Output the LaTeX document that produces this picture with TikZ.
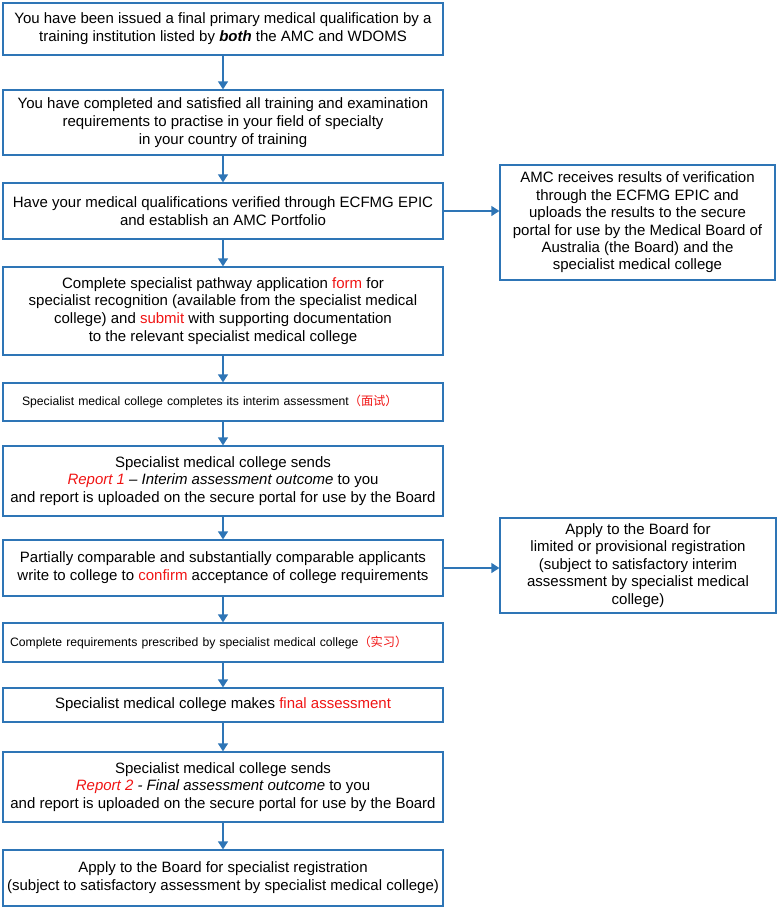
\documentclass[tikz,border=0pt]{standalone}
\usepackage{fontspec}
\setmainfont{Liberation Sans}
\newfontfamily\cjk{Noto Sans CJK SC}
\usetikzlibrary{arrows.meta}
\definecolor{boxblue}{RGB}{46,117,182}
\definecolor{hired}{RGB}{240,20,20}
\tikzset{
  box/.style={draw=boxblue, line width=1.3pt, minimum width=440pt, align=center,
    font=\fontsize{15}{17.8}\selectfont, inner sep=1pt},
  sidebox/.style={draw=boxblue, line width=1.3pt, align=center,
    font=\fontsize{15}{17.4}\selectfont, inner sep=1pt},
  smallbox/.style={draw=boxblue, line width=1.3pt, align=left,
    font=\fontsize{12.2}{14}\selectfont},
  arr/.style={draw=boxblue, line width=1.3pt, -{Triangle[length=8pt,width=10pt]}},
}
\newcommand{\rd}[1]{\textcolor{hired}{#1}}
\begin{document}
\begin{tikzpicture}[x=1pt,y=-1pt]
\useasboundingbox (0,0) rectangle (779,908);
\node[box, minimum height=52pt] (b1) at (223,29) {You have been issued a final primary medical qualification by a\\training institution listed by \textbf{\textit{both}} the AMC and WDOMS};
\node[box, minimum height=65pt] (b2) at (223,122.5) {You have completed and satisfied all training and examination\\requirements to practise in your field of specialty\\in your country of training};
\node[box, minimum height=56pt] (b3) at (223,211) {Have your medical qualifications verified through ECFMG EPIC\\and establish an AMC Portfolio};
\node[box, minimum height=88pt] (b4) at (223,311) {Complete specialist pathway application \rd{form} for\\specialist recognition (available from the specialist medical\\college) and \rd{submit} with supporting documentation\\to the relevant specialist medical college};
\node[smallbox, minimum height=38pt, text width=402pt, inner xsep=19pt] (b5) at (223,402) {Specialist medical college completes its interim assessment\rd{\cjk （面试）}};
\node[box, minimum height=70pt] (b6) at (223,481) {Specialist medical college sends\\\rd{\textit{Report 1}} \textit{– Interim assessment outcome} to you\\and report is uploaded on the secure portal for use by the Board};
\node[box, minimum height=56pt] (b7) at (223,568) {Partially comparable and substantially comparable applicants\\write to college to \rd{confirm} acceptance of college requirements};
\node[smallbox, minimum height=39pt, text width=426pt, inner xsep=7pt] (b8) at (223,642.5) {Complete requirements prescribed by specialist medical college\rd{\cjk （实习）}};
\node[box, minimum height=34pt] (b9) at (223,705) {Specialist medical college makes \rd{final assessment}};
\node[box, minimum height=70pt] (b10) at (223,787) {Specialist medical college sends\\\rd{\textit{Report 2}} \textit{- Final assessment outcome} to you\\and report is uploaded on the secure portal for use by the Board};
\node[box, minimum height=56pt] (b11) at (223,878) {Apply to the Board for specialist registration\\(subject to satisfactory assessment by specialist medical college)};
\node[sidebox, minimum width=275pt, minimum height=115pt] (rA) at (637.5,222.5) {AMC receives results of verification\\through the ECFMG EPIC and\\uploads the results to the secure\\portal for use by the Medical Board of\\Australia (the Board) and the\\specialist medical college};
\node[sidebox, minimum width=276pt, minimum height=95pt] (rB) at (638,565.5) {Apply to the Board for\\limited or provisional registration\\(subject to satisfactory interim\\assessment by specialist medical\\college)};
\draw[arr] (b1) -- (b2);
\draw[arr] (b2) -- (b3);
\draw[arr] (b3) -- (b4);
\draw[arr] (b4) -- (b5);
\draw[arr] (b5) -- (b6);
\draw[arr] (b6) -- (b7);
\draw[arr] (b7) -- (b8);
\draw[arr] (b8) -- (b9);
\draw[arr] (b9) -- (b10);
\draw[arr] (b10) -- (b11);
\draw[arr] (b3.east) -- (b3.east -| rA.west);
\draw[arr] (b7.east) -- (b7.east -| rB.west);
\end{tikzpicture}
\end{document}
